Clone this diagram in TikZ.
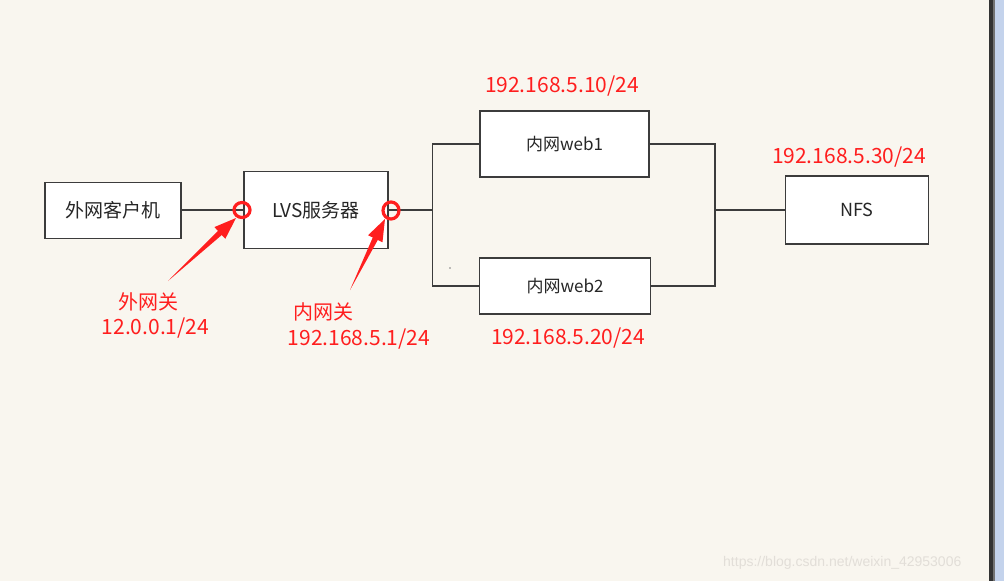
\documentclass[tikz,border=0pt]{standalone}
\usepackage{fontspec}
\setmainfont{Liberation Sans}
\newfontfamily\cjk{Noto Sans CJK SC}
\usetikzlibrary{calc}
\definecolor{paper}{HTML}{F9F6EF}
\definecolor{boxline}{HTML}{3C3C3C}
\definecolor{flagred}{HTML}{FF1E1E}
\definecolor{sidebar}{HTML}{C4D3EC}
\definecolor{wmark}{HTML}{E2DED8}
\begin{document}
\begin{tikzpicture}[x=1pt,y=-1pt,
	host/.style={draw=boxline, fill=white, line width=1.3pt, inner sep=0pt,
		font=\cjk\fontsize{19}{22}\selectfont, text=black!85},
	wire/.style={draw=boxline, line width=1.3pt},
	addr/.style={text=flagred, font=\cjk\fontsize{21}{24}\selectfont, inner sep=0pt}]
	% page
	\useasboundingbox (0,0) rectangle (1004,581);
	\fill[paper] (0,0) rectangle (1004,581);
	% hosts
	\node[host, minimum width=136, minimum height=56] (client) at (113,210.5) {外网客户机};
	\node[host, minimum width=144, minimum height=77] (lvs) at (316,210) {LVS服务器};
	\node[host, minimum width=169, minimum height=66, font=\cjk\fontsize{17}{20}\selectfont] (web1) at (564.5,144) {内网web1};
	\node[host, minimum width=171, minimum height=56, font=\cjk\fontsize{17}{20}\selectfont] (web2) at (565,286) {内网web2};
	\node[host, minimum width=143, minimum height=68, font=\cjk\fontsize{18}{20}\selectfont] (nfs) at (857,210) {NFS};
	% wires
	\coordinate (lbus) at (432.5,210);
	\coordinate (rbus) at (715,210);
	\draw[wire] (client.east |- lvs.west) -- (lvs.west);
	\draw[wire] (lvs.east) -- (lbus);
	\draw[wire] (web1.west) -| (lbus) |- (web2.west);
	\draw[wire] (web1.east) -| (rbus) |- (web2.east);
	\draw[wire] (rbus) -- (nfs.west);
	\fill[gray] (450,268) circle (0.8);
	% addresses
	\node[addr] (ip1) at (562,86) {192.168.5.10/24};
	\node[addr] (ip2) at (568,338) {192.168.5.20/24};
	\node[addr] (ip3) at (849,157) {192.168.5.30/24};
	\node[addr, font=\cjk\fontsize{20}{24}\selectfont] (outgw) at (148,302) {外网关};
	\node[addr] (outip) at (155.5,328) {12.0.0.1/24};
	\node[addr, font=\cjk\fontsize{20}{24}\selectfont] (ingw) at (323,312) {内网关};
	\node[addr] (inip) at (359,339) {192.168.5.1/24};
	% gateway marks
	\draw[flagred, line width=3.2pt] (242,210) ellipse (8 and 7.5);
	\draw[flagred, line width=3.2pt] (391,210.5) ellipse (8 and 8.5);
	\coordinate (t1) at (168,281);
	\coordinate (h1) at (236,218);
	\coordinate (t2) at (350,290);
	\coordinate (h2) at (385,219);
	\foreach \t/\h in {t1/h1, t2/h2}{
		\coordinate (b) at ($(\h)!22pt!(\t)$);
		\fill[flagred] (\t) -- ($(b)!2.8pt!90:(\h)$) -- ($(b)!8pt!90:(\h)$) -- (\h)
			-- ($(b)!8pt!-90:(\h)$) -- ($(b)!2.8pt!-90:(\h)$) -- cycle;
	}
	% watermark and window edge
	\node[text=wmark, font=\fontsize{14}{16}\selectfont, anchor=west, inner sep=0pt] (wm) at (723,563) {https://blog.csdn.net/weixin\_42953006};
	\fill[sidebar] (995,0) rectangle (1004,581);
	\fill[black!80] (989,0) rectangle (993,581);
	\fill[black!55] (993,0) rectangle (995,581);
\end{tikzpicture}
\end{document}
